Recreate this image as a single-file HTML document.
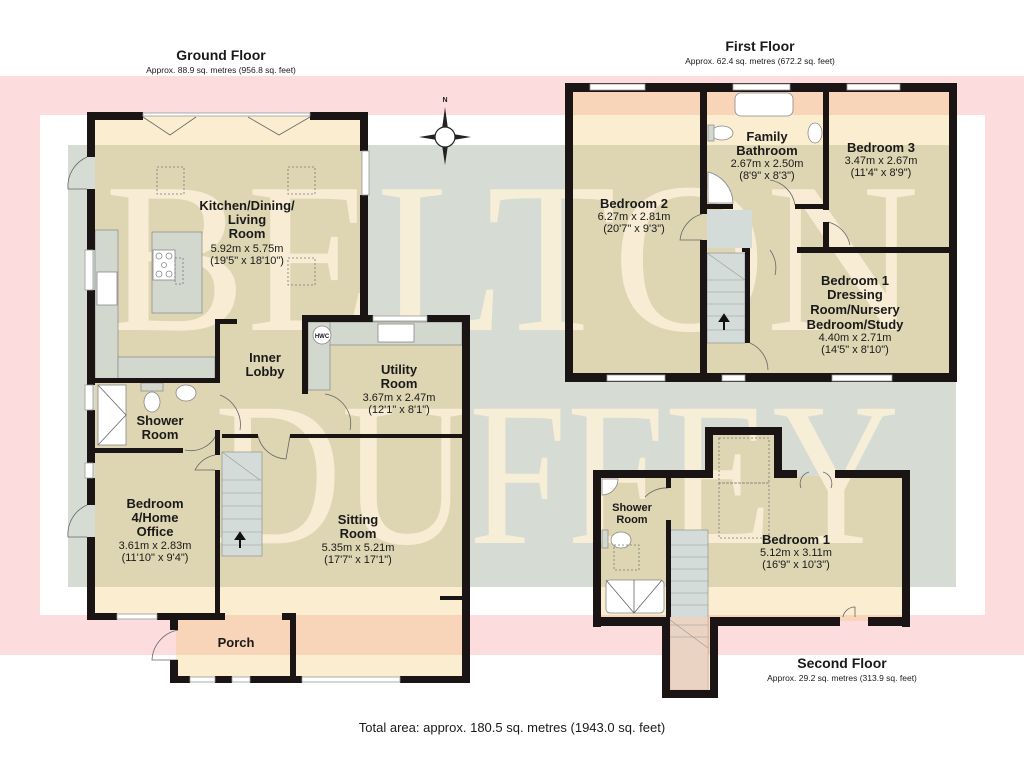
<!DOCTYPE html>
<html><head><meta charset="utf-8"><style>
html,body{margin:0;padding:0;background:#fff}
svg{display:block}
text{font-family:"Liberation Sans",Arial,sans-serif;fill:#1a1a1a}
.n{font-weight:bold;font-size:13px}
.d{font-size:11px}
.w{fill:#1a1414}
.win{fill:#fff;stroke:#999;stroke-width:0.8}
.fix{fill:#fff;stroke:#888;stroke-width:0.8}
.cnt{fill:#d3d8cf;stroke:#888;stroke-width:0.7}
.dash{fill:none;stroke:#777;stroke-width:0.8;stroke-dasharray:2,2}
.door{fill:none;stroke:#666;stroke-width:0.8}
</style></head><body>
<svg width="1024" height="768" viewBox="0 0 1024 768" xmlns="http://www.w3.org/2000/svg">
<rect x="0" y="0" width="1024" height="768" fill="#fff"/>
<rect x="0" y="76" width="1024" height="579" fill="#fcdcdc"/>
<rect x="40" y="115" width="945" height="500" fill="#fff"/>
<rect x="68" y="145" width="888" height="442" fill="#d6dcd4"/>

<!-- room fills (single path => no double alpha) -->
<path fill="rgba(240,200,110,0.32)" d="
M95 114 h270 v205 h-270Z
M95 319 h207 v298 h-207Z
M220 319 h245 v360 h-245Z
M176 617 h116 v62 h-116Z
M573 90 h378 v286 h-378Z
M601 476 h305 v145 h-305Z
M705 433 h75 v45 h-75Z
M668 617 h46 v78 h-46Z"/>

<!-- watermark -->
<g opacity="0.9">
<text x="512" y="330" text-anchor="middle" textLength="815" lengthAdjust="spacingAndGlyphs" style="font-family:'Liberation Serif',serif;font-size:215px;fill:#fbf0d8">BELTON</text>
<text x="557" y="543" text-anchor="middle" textLength="685" lengthAdjust="spacingAndGlyphs" style="font-family:'Liberation Serif',serif;font-size:205px;fill:#fbf0d8">DUFFEY</text>
</g>

<!-- ================= GROUND FLOOR ================= -->
<rect class="cnt" x="95" y="230" width="23" height="150"/>
<rect class="cnt" x="118" y="357" width="97" height="23"/>
<rect class="cnt" x="152" y="232" width="50" height="81"/>
<rect class="fix" x="153" y="250" width="22" height="30"/>
<circle cx="159" cy="256" r="3" class="fix"/><circle cx="169" cy="256" r="3" class="fix"/><circle cx="164" cy="265" r="2.5" class="fix"/><circle cx="159" cy="274" r="3" class="fix"/><circle cx="169" cy="274" r="3" class="fix"/>
<rect class="dash" x="175" y="258" width="8" height="26"/>
<rect class="fix" x="97" y="272" width="20" height="33"/>
<rect class="dash" x="157" y="167" width="27" height="27"/>
<rect class="dash" x="288" y="167" width="27" height="27"/>
<rect class="dash" x="288" y="258" width="27" height="27"/>
<rect class="cnt" x="308" y="322" width="154" height="23"/>
<rect class="cnt" x="308" y="322" width="22" height="68"/>
<circle cx="322" cy="335" r="9" class="fix"/><text x="322" y="338" text-anchor="middle" style="font-size:6px;font-weight:bold">HWC</text>
<rect class="fix" x="378" y="324" width="36" height="18"/>
<rect class="fix" x="98" y="385" width="28" height="60"/>
<path class="door" d="M98 385 L126 415 L98 445"/>
<rect class="cnt" x="141" y="383" width="22" height="8"/>
<ellipse cx="152" cy="402" rx="8" ry="10" class="fix"/>
<ellipse cx="186" cy="393" rx="10" ry="8" class="fix"/>
<rect x="222" y="452" width="40" height="104" fill="#d3dcd8" stroke="#888" stroke-width="0.6"/>
<g stroke="#999" stroke-width="0.6">
<line x1="222" y1="480" x2="262" y2="480"/><line x1="222" y1="493" x2="262" y2="493"/><line x1="222" y1="506" x2="262" y2="506"/><line x1="222" y1="519" x2="262" y2="519"/><line x1="222" y1="532" x2="262" y2="532"/><line x1="222" y1="545" x2="262" y2="545"/>
<line x1="222" y1="452" x2="260" y2="480"/>
</g>
<path d="M240 548 L240 539 L236 539 L240 533 L244 539 L240 539" fill="#111" stroke="#111" stroke-width="2"/>

<path class="door" d="M87 157 A32 32 0 0 0 68 189 L87 189"/>
<path class="door" d="M87 505 A32 32 0 0 0 68 537 L87 537"/>
<path class="door" d="M178 630 A32 32 0 0 0 152 660 L178 660"/>
<path class="door" d="M220 395 A32 32 0 0 1 240 430"/>
<path class="door" d="M218 430 A28 28 0 0 1 185 450"/>
<path class="door" d="M215 455 A28 28 0 0 0 195 470 L215 470"/>
<path class="door" d="M258 436 A30 30 0 0 0 286 459 L290 436"/>
<path class="door" d="M325 394 A30 30 0 0 1 350 430"/>
<path class="door" d="M143 117 L170 135 L196 117 M248 117 L279 135 L310 117"/>

<g class="w">
<rect x="87" y="112" width="56" height="8"/>
<rect x="310" y="112" width="58" height="8"/>
<rect x="87" y="112" width="8" height="45"/>
<rect x="87" y="189" width="8" height="61"/>
<rect x="87" y="290" width="8" height="95"/>
<rect x="87" y="410" width="8" height="53"/>
<rect x="87" y="478" width="8" height="27"/>
<rect x="87" y="537" width="8" height="83"/>
<rect x="360" y="112" width="8" height="39"/>
<rect x="360" y="195" width="8" height="124"/>
<rect x="302" y="315" width="71" height="7"/>
<rect x="427" y="315" width="43" height="7"/>
<rect x="462" y="315" width="8" height="368"/>
<rect x="302" y="315" width="6" height="79"/>
<rect x="95" y="378" width="123" height="5"/>
<rect x="215" y="319" width="22" height="5"/>
<rect x="215" y="319" width="5" height="64"/>
<rect x="95" y="448" width="88" height="5"/>
<rect x="215" y="430" width="5" height="25"/>
<rect x="215" y="470" width="5" height="147"/>
<rect x="222" y="434" width="36" height="4"/>
<rect x="290" y="434" width="172" height="4"/>
<rect x="440" y="596" width="22" height="4"/>
<rect x="87" y="613" width="30" height="7"/>
<rect x="157" y="613" width="68" height="7"/>
<rect x="282" y="613" width="14" height="7"/>
<rect x="170" y="613" width="8" height="17"/>
<rect x="170" y="660" width="8" height="23"/>
<rect x="290" y="613" width="6" height="70"/>
<rect x="170" y="676" width="20" height="7"/>
<rect x="215" y="676" width="17" height="7"/>
<rect x="250" y="676" width="52" height="7"/>
<rect x="400" y="676" width="70" height="7"/>
</g>
<rect class="win" x="143" y="113" width="167" height="3"/>
<rect class="win" x="85" y="250" width="8" height="40"/>
<rect class="win" x="85" y="385" width="8" height="25"/>
<rect class="win" x="85" y="463" width="8" height="15"/>
<rect class="win" x="362" y="151" width="7" height="44"/>
<rect class="win" x="373" y="316" width="54" height="5"/>
<rect class="win" x="117" y="614" width="40" height="5"/>
<rect class="win" x="190" y="677" width="25" height="5"/>
<rect class="win" x="232" y="677" width="18" height="5"/>
<rect class="win" x="302" y="677" width="98" height="5"/>

<text class="n" x="247" y="210" text-anchor="middle">Kitchen/Dining/</text>
<text class="n" x="247" y="224" text-anchor="middle">Living</text>
<text class="n" x="247" y="238" text-anchor="middle">Room</text>
<text class="d" x="247" y="252" text-anchor="middle">5.92m x 5.75m</text>
<text class="d" x="247" y="264" text-anchor="middle">(19'5" x 18'10")</text>
<text class="n" x="265" y="362" text-anchor="middle">Inner</text>
<text class="n" x="265" y="376" text-anchor="middle">Lobby</text>
<text class="n" x="399" y="374" text-anchor="middle">Utility</text>
<text class="n" x="399" y="388" text-anchor="middle">Room</text>
<text class="d" x="399" y="401" text-anchor="middle">3.67m x 2.47m</text>
<text class="d" x="399" y="413" text-anchor="middle">(12'1" x 8'1")</text>
<text class="n" x="160" y="425" text-anchor="middle">Shower</text>
<text class="n" x="160" y="439" text-anchor="middle">Room</text>
<text class="n" x="155" y="508" text-anchor="middle">Bedroom</text>
<text class="n" x="155" y="522" text-anchor="middle">4/Home</text>
<text class="n" x="155" y="536" text-anchor="middle">Office</text>
<text class="d" x="155" y="549" text-anchor="middle">3.61m x 2.83m</text>
<text class="d" x="155" y="561" text-anchor="middle">(11'10" x 9'4")</text>
<text class="n" x="358" y="524" text-anchor="middle">Sitting</text>
<text class="n" x="358" y="538" text-anchor="middle">Room</text>
<text class="d" x="358" y="551" text-anchor="middle">5.35m x 5.21m</text>
<text class="d" x="358" y="563" text-anchor="middle">(17'7" x 17'1")</text>
<text class="n" x="236" y="647" text-anchor="middle">Porch</text>

<g transform="translate(445,137)">
<path d="M0 -30 L3 -8 L0 0 L-3 -8Z M0 28 L3 8 L0 0 L-3 8Z M-26 0 L-8 -3 L0 0 L-8 3Z M26 0 L8 -3 L0 0 L8 3Z" fill="#222"/>
<circle r="10" fill="#fff" stroke="#222" stroke-width="1.2"/>
<text x="0" y="-35" text-anchor="middle" style="font-size:7px;font-weight:bold">N</text>
</g>

<!-- ================= FIRST FLOOR ================= -->
<rect class="fix" x="735" y="93" width="58" height="23" rx="6"/>
<ellipse cx="722" cy="133" rx="11" ry="7" class="fix"/>
<rect class="cnt" x="708" y="125" width="6" height="16"/>
<ellipse cx="815" cy="133" rx="7" ry="10" class="fix"/>
<path class="fix" d="M708 172 A33 33 0 0 1 733 203 L708 203Z"/>
<rect x="707" y="210" width="45" height="38" fill="#d3dcd8"/>
<rect x="707" y="253" width="38" height="90" fill="#d3dcd8" stroke="#888" stroke-width="0.6"/>
<g stroke="#999" stroke-width="0.6">
<line x1="707" y1="280" x2="745" y2="280"/><line x1="707" y1="292" x2="745" y2="292"/><line x1="707" y1="304" x2="745" y2="304"/><line x1="707" y1="316" x2="745" y2="316"/><line x1="707" y1="330" x2="745" y2="330"/>
<line x1="707" y1="253" x2="745" y2="280"/>
</g>
<path d="M724 330 L724 321 L720 321 L724 315 L728 321 L724 321" fill="#111" stroke="#111" stroke-width="2"/>
<path class="door" d="M702 214 A30 30 0 0 0 680 240 L702 240"/>
<path class="door" d="M795 205 A30 30 0 0 0 770 180"/>
<path class="door" d="M828 222 A30 30 0 0 1 850 245"/>
<path class="door" d="M770 250 A30 30 0 0 1 775 275"/>
<path class="door" d="M750 343 A30 30 0 0 1 768 370"/>
<g class="w">
<rect x="565" y="83" width="392" height="9"/>
<rect x="565" y="83" width="8" height="299"/>
<rect x="949" y="83" width="8" height="299"/>
<rect x="565" y="373" width="392" height="9"/>
<rect x="700" y="92" width="7" height="122"/>
<rect x="700" y="240" width="7" height="133"/>
<rect x="823" y="92" width="6" height="118"/>
<rect x="823" y="222" width="6" height="26"/>
<rect x="707" y="204" width="26" height="5"/>
<rect x="795" y="204" width="33" height="5"/>
<rect x="745" y="248" width="5" height="95"/>
<rect x="797" y="247" width="160" height="6"/>
<rect x="742" y="248" width="8" height="4"/>
</g>
<rect class="win" x="590" y="84" width="55" height="6"/>
<rect class="win" x="733" y="84" width="57" height="6"/>
<rect class="win" x="847" y="84" width="53" height="6"/>
<rect class="win" x="607" y="375" width="58" height="6"/>
<rect class="win" x="722" y="375" width="23" height="6"/>
<rect class="win" x="832" y="375" width="60" height="6"/>
<text class="n" x="767" y="141" text-anchor="middle">Family</text>
<text class="n" x="767" y="155" text-anchor="middle">Bathroom</text>
<text class="d" x="767" y="167" text-anchor="middle">2.67m x 2.50m</text>
<text class="d" x="767" y="179" text-anchor="middle">(8'9" x 8'3")</text>
<text class="n" x="881" y="152" text-anchor="middle">Bedroom 3</text>
<text class="d" x="881" y="164" text-anchor="middle">3.47m x 2.67m</text>
<text class="d" x="881" y="176" text-anchor="middle">(11'4" x 8'9")</text>
<text class="n" x="634" y="208" text-anchor="middle">Bedroom 2</text>
<text class="d" x="634" y="220" text-anchor="middle">6.27m x 2.81m</text>
<text class="d" x="634" y="232" text-anchor="middle">(20'7" x 9'3")</text>
<text class="n" x="855" y="285" text-anchor="middle">Bedroom 1</text>
<text class="n" x="855" y="299" text-anchor="middle">Dressing</text>
<text class="n" x="855" y="314" text-anchor="middle">Room/Nursery</text>
<text class="n" x="855" y="329" text-anchor="middle">Bedroom/Study</text>
<text class="d" x="855" y="341" text-anchor="middle">4.40m x 2.71m</text>
<text class="d" x="855" y="353" text-anchor="middle">(14'5" x 8'10")</text>

<!-- ================= SECOND FLOOR ================= -->
<path class="fix" d="M602 479 L618 479 A16 16 0 0 1 602 495Z"/>
<ellipse cx="621" cy="540" rx="10" ry="8" class="fix"/>
<rect class="cnt" x="602" y="530" width="6" height="18"/>
<rect class="dash" x="614" y="545" width="25" height="25"/>
<rect class="fix" x="606" y="580" width="58" height="33" rx="4"/>
<path class="door" d="M606 580 L634 613 L662 580 M634 580 L634 613"/>
<rect class="dash" x="719" y="438" width="50" height="45"/>
<rect class="dash" x="719" y="483" width="50" height="55"/>
<rect x="670" y="530" width="38" height="160" fill="#d3dcd8" stroke="#888" stroke-width="0.6"/>
<rect x="670" y="617" width="38" height="73" fill="rgba(250,205,180,0.6)"/>
<g stroke="#999" stroke-width="0.6">
<line x1="670" y1="545" x2="708" y2="545"/><line x1="670" y1="557" x2="708" y2="557"/><line x1="670" y1="569" x2="708" y2="569"/><line x1="670" y1="581" x2="708" y2="581"/><line x1="670" y1="593" x2="708" y2="593"/><line x1="670" y1="605" x2="708" y2="605"/><line x1="670" y1="625" x2="708" y2="625"/><line x1="670" y1="637" x2="708" y2="637"/><line x1="670" y1="620" x2="708" y2="648"/>
</g>
<path class="door" d="M668 488 A30 30 0 0 0 645 497 M809 472 A12 12 0 0 0 801 488 M823 472 A12 12 0 0 1 831 488 M843 617 A12 12 0 0 1 855 607 L855 617"/>
<g class="w">
<rect x="593" y="470" width="112" height="8"/>
<rect x="705" y="427" width="77" height="8"/>
<rect x="705" y="427" width="8" height="51"/>
<rect x="774" y="427" width="8" height="51"/>
<rect x="774" y="470" width="23" height="8"/>
<rect x="835" y="470" width="75" height="8"/>
<rect x="902" y="470" width="8" height="157"/>
<rect x="593" y="470" width="8" height="157"/>
<rect x="593" y="617" width="75" height="9"/>
<rect x="710" y="617" width="130" height="9"/>
<rect x="868" y="617" width="42" height="9"/>
<rect x="666" y="478" width="5" height="10"/>
<rect x="666" y="520" width="5" height="97"/>
<rect x="662" y="617" width="8" height="81"/>
<rect x="710" y="617" width="8" height="81"/>
<rect x="662" y="690" width="56" height="8"/>
</g>
<text class="n" x="632" y="511" text-anchor="middle" style="font-size:11px">Shower</text>
<text class="n" x="632" y="523" text-anchor="middle" style="font-size:11px">Room</text>
<text class="n" x="796" y="544" text-anchor="middle">Bedroom 1</text>
<text class="d" x="796" y="556" text-anchor="middle">5.12m x 3.11m</text>
<text class="d" x="796" y="568" text-anchor="middle">(16'9" x 10'3")</text>

<text x="221" y="60" text-anchor="middle" style="font-size:14px;font-weight:bold">Ground Floor</text>
<text x="221" y="73" text-anchor="middle" style="font-size:8.5px">Approx. 88.9 sq. metres (956.8 sq. feet)</text>
<text x="760" y="51" text-anchor="middle" style="font-size:14px;font-weight:bold">First Floor</text>
<text x="760" y="64" text-anchor="middle" style="font-size:8.5px">Approx. 62.4 sq. metres (672.2 sq. feet)</text>
<text x="842" y="668" text-anchor="middle" style="font-size:14px;font-weight:bold">Second Floor</text>
<text x="842" y="681" text-anchor="middle" style="font-size:8.5px">Approx. 29.2 sq. metres (313.9 sq. feet)</text>
<text x="512" y="732" text-anchor="middle" style="font-size:13px">Total area: approx. 180.5 sq. metres (1943.0 sq. feet)</text>
</svg>
</body></html>
